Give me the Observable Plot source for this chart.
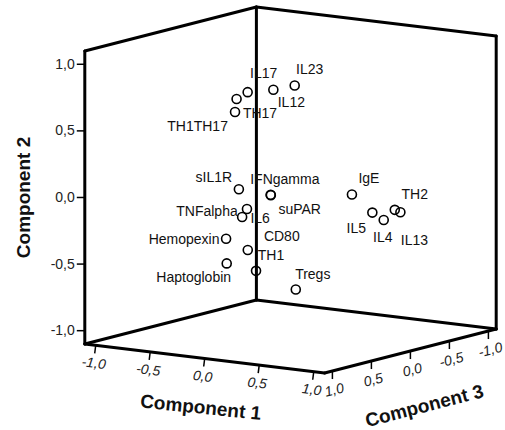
<!DOCTYPE html>
<html><head><meta charset="utf-8">
<script src="https://cdn.jsdelivr.net/npm/d3@7"></script>
<script src="https://cdn.jsdelivr.net/npm/@observablehq/plot@0.6"></script>
<style>html,body{margin:0;padding:0;background:#fff;}</style>
</head><body><div id="chart"></div>
<script>
// ---- data (component loadings) ----
const variables = ["IL17","IL23","IL12","TH17","TH1TH17","sIL1R","IFNgamma","suPAR","TNFalpha","IL6",
  "Hemopexin","CD80","TH1","Haptoglobin","Tregs","IgE","TH2","IL13","IL5","IL4"];
const component1 = [-0.25, 0.11, -0.05, -0.33, -0.28, -0.08, 0.07, 0.09, 0.03, 0.00,
  -0.09, -0.07, -0.03, -0.07, 0.12, 0.17, 0.42, 0.45, 0.25, 0.34];
const component2 = [0.74, 0.81, 0.77, 0.59, 0.70, 0.08, 0.02, 0.03, -0.05, -0.11,
  -0.27, -0.39, -0.55, -0.45, -0.72, -0.10, -0.22, -0.24, -0.25, -0.30];
const component3 = [0.20, 0.10, 0.15, 0.25, 0.30, 0.55, 0.35, 0.38, 0.60, 0.62,
  0.70, 0.45, 0.40, 0.72, 0.10, -0.55, -0.75, -0.78, -0.70, -0.72];
const tickValues = [-1, -0.5, 0, 0.5, 1];
const tickLabels = ["-1,0", "-0,5", "0,0", "0,5", "1,0"];
const axisTitles = ["Component 1", "Component 2", "Component 3"];

// ---- layout (view projection, not data) ----
const W = 505, H = 430;
const lim = 1.1;                       // cube half-extent in loading units
const origin = [290, 189.5];
const e1 = [109, 13.2], e2 = [0, -133.2], e3 = [-78, 20];
const labelOffset = [[16,-19],[15,-16],[18,13],[25,1],[-39,27],[-25,-12],[14,-16],[29,15],[-40,2],[18,1],
  [-42,1],[34,-14],[15,-15],[-33,14],[17,-15],[17,-16],[20,-15],[14,28],[-16,16],[-1,17]];

function proj(a, b, c) {
  return [origin[0] + a*e1[0] + b*e2[0] + c*e3[0], origin[1] + a*e1[1] + b*e2[1] + c*e3[1]];
}

const pts = variables.map((name, i) => {
  const [x, y] = proj(component1[i], component2[i], component3[i]);
  return {name, x, y, lx: x + labelOffset[i][0], ly: y + labelOffset[i][1]};
});

const edgeDefs = [
  [[-1,-1, 1],[-1, 1, 1]],
  [[-1,-1,-1],[-1, 1,-1]],
  [[ 1,-1,-1],[ 1, 1,-1]],
  [[-1, 1, 1],[-1, 1,-1]],
  [[-1, 1,-1],[ 1, 1,-1]],
  [[-1,-1, 1],[-1,-1,-1]],
  [[-1,-1,-1],[ 1,-1,-1]],
  [[-1,-1, 1],[ 1,-1, 1]],
  [[ 1,-1, 1],[ 1,-1,-1]]
];
const edges = edgeDefs.map(([p, q]) => {
  const [x1, y1] = proj(p[0]*lim, p[1]*lim, p[2]*lim);
  const [x2, y2] = proj(q[0]*lim, q[1]*lim, q[2]*lim);
  return {x1, y1, x2, y2};
});

// ticks
const t2 = tickValues.map((v, i) => { const [x, y] = proj(-lim, v, lim); return {x, y, label: tickLabels[i]}; });
const t1 = tickValues.map((v, i) => { const [x, y] = proj(v, -lim, lim); return {x, y, label: tickLabels[i]}; });
const t3 = tickValues.map((v, i) => { const [x, y] = proj(lim, -lim, v); return {x, y, label: tickLabels[i]}; });

const mid1 = proj(0, -lim, lim), mid2 = proj(-lim, 0, lim), mid3 = proj(lim, -lim, 0);
const titles = [
  {x: mid1[0] - 4, y: mid1[1] + 49, text: axisTitles[0], rotate: 6},
  {x: mid2[0] - 61, y: mid2[1], text: axisTitles[1], rotate: -90},
  {x: mid3[0] + 14, y: mid3[1] + 55, text: axisTitles[2], rotate: -14.5}
];

const font = "'Liberation Sans', Arial, sans-serif";
const chart = Plot.plot({
  width: W, height: H, margin: 0,
  x: {type: "linear", domain: [0, W], range: [0, W], axis: null},
  y: {type: "linear", domain: [0, H], range: [0, H], axis: null},
  style: {fontFamily: font, background: "#fff", color: "#000"},
  marks: [
    Plot.link(edges, {x1: "x1", y1: "y1", x2: "x2", y2: "y2", stroke: "#000", strokeWidth: 3, strokeLinecap: "round"}),
    // component 2 ticks
    Plot.link(t2, {x1: d => d.x - 8, y1: "y", x2: "x", y2: "y", stroke: "#000", strokeWidth: 1.5}),
    Plot.text(t2, {x: d => d.x - 10, y: "y", text: "label", textAnchor: "end", fontSize: 14, fill: "#222"}),
    // component 1 ticks
    Plot.link(t1, {x1: "x", y1: "y", x2: d => d.x - 1, y2: d => d.y + 8, stroke: "#000", strokeWidth: 1.5}),
    Plot.text(t1, {x: d => d.x - 2, y: d => d.y + 18, text: "label", fontSize: 14, fontStyle: "italic", rotate: 7, fill: "#222"}),
    // component 3 ticks
    Plot.link(t3, {x1: "x", y1: "y", x2: d => d.x, y2: d => d.y + 8, stroke: "#000", strokeWidth: 1.5}),
    Plot.text(t3, {x: d => d.x + 2, y: d => d.y + 19, text: "label", fontSize: 14, fontStyle: "italic", rotate: -14, fill: "#222"}),
    // axis titles
    Plot.text(titles, {x: "x", y: "y", text: "text", rotate: "rotate", fontSize: 19, fontWeight: "bold", fill: "#111"}),
    // points
    Plot.dot(pts, {x: "x", y: "y", r: 4.5, stroke: "#000", strokeWidth: 1.6, fill: "none"}),
    Plot.text(pts, {x: "lx", y: "ly", text: "name", fontSize: 14, fill: "#111"})
  ]
});
document.getElementById("chart").appendChild(chart);
</script>
</body></html>
